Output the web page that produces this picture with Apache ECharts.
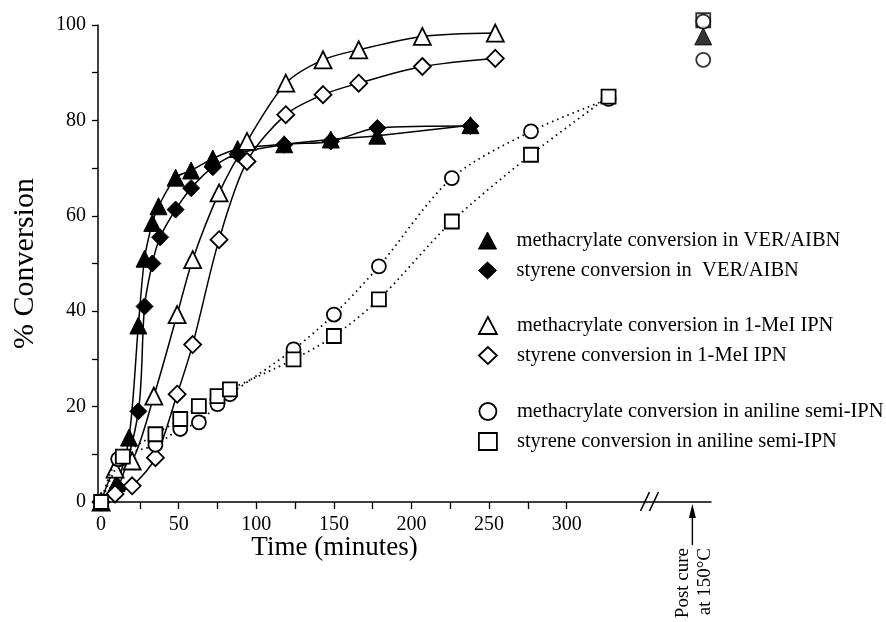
<!DOCTYPE html>
<html>
<head>
<meta charset="utf-8">
<script src="https://cdn.jsdelivr.net/npm/echarts@6/dist/echarts.min.js"></script>
<style>
html, body { margin: 0; padding: 0; background: #fff; }
#main { width: 886px; height: 622px; }
</style>
</head>
<body>
<div id="main"></div>
<script>
// series names (legend order)
var seriesNames = [
    'methacrylate conversion in VER/AIBN',
    'styrene conversion in  VER/AIBN',
    'methacrylate conversion in 1-MeI IPN',
    'styrene conversion in 1-MeI IPN',
    'methacrylate conversion in aniline semi-IPN',
    'styrene conversion in aniline semi-IPN'
];

// time (min) / conversion (%)
var maVerTime = [0, 10, 18, 24, 28, 33, 37, 48, 58, 72, 88, 118, 148, 178, 238];
var maVerConv = [0, 4, 13.5, 37, 51, 58.5, 62, 68, 69.5, 72, 74, 75, 76, 76.8, 79];

var styVerTime = [0, 11, 24, 28, 33, 38, 48, 58, 72, 88, 118, 148, 178, 238];
var styVerConv = [0, 3, 19, 41, 50, 55.5, 61.3, 65.8, 70.2, 73, 74.9, 75.6, 78.4, 78.8];

var maIpnTime = [0, 9, 20, 34, 49, 59, 76, 94, 119, 143, 166, 207, 254];
var maIpnConv = [0, 6.9, 8.6, 22.2, 39.3, 50.8, 64.8, 75.6, 87.8, 92.7, 94.8, 97.6, 98.3];

var styIpnTime = [0, 9, 20, 35, 49, 59, 76, 94, 119, 143, 166, 207, 254];
var styIpnConv = [0, 1.7, 3.4, 9.3, 22.6, 33, 55, 71.4, 81.2, 85.4, 87.8, 91.3, 93];

var maAnTime = [0, 11, 35, 51, 63, 75, 83, 124, 150, 179, 226, 277, 327];
var maAnConv = [0, 9, 12, 15.3, 16.7, 20.5, 22.6, 32, 39.3, 49.4, 67.9, 77.7, 84.5];

var styAnTime = [0, 14, 35, 51, 63, 75, 83, 124, 150, 179, 226, 277, 327];
var styAnConv = [0, 9.5, 14.2, 17.4, 20.1, 22.2, 23.6, 29.9, 34.8, 42.5, 58.8, 72.8, 85];

// post cure at 150°C (drawn past the axis break)
var postCureTime = 388;
var postCircleConv = [100.7, 92.7];
var postSquareConv = [101];
var postTriangleConv = [97.6];

// axis ticks / labels
var xTickValues = [0, 25, 50, 75, 100, 125, 150, 175, 200, 225, 250, 275, 300];
var xLabelValues = [0, 50, 100, 150, 200, 250, 300];
var yTickValues = [0, 10, 20, 30, 40, 50, 60, 70, 80, 90, 100];
var yLabelValues = [0, 20, 40, 60, 80, 100];

var axisBreakTime = 354;
var arrowTime = 381;

var FONT = '"Liberation Serif", "Times New Roman", serif';

function pairs(xs, ys){
    return xs.map(function(x, i){ return [x, ys[i]]; });
}

function ConversionChart(){
    this.chart = echarts.init(document.getElementById('main'));
}

ConversionChart.prototype.lineSeries = function(idx, xs, ys, symbol, size, filled, dotted){
    return {
        name: seriesNames[idx],
        type: 'line',
        data: pairs(xs, ys),
        smooth: 0.3,
        symbol: symbol,
        symbolSize: size,
        showAllSymbol: true,
        clip: false,
        lineStyle: {
            color: '#000',
            width: dotted ? 1.8 : 1.5,
            type: dotted ? [1.5, 4] : 'solid'
        },
        itemStyle: filled
            ? { color: '#000', borderColor: '#000', borderWidth: 1 }
            : { color: '#fff', borderColor: '#000', borderWidth: 1.8 },
        emphasis: { disabled: true },
        z: 3 + idx
    };
};

ConversionChart.prototype.postSeries = function(ys, symbol, size, filled, z){
    return {
        name: 'post-' + symbol + z,
        type: 'scatter',
        data: ys.map(function(v){ return [postCureTime, v]; }),
        symbol: symbol,
        symbolSize: size,
        clip: false,
        itemStyle: filled
            ? { color: '#000', borderColor: '#000', borderWidth: 1 }
            : { color: '#fff', borderColor: '#000', borderWidth: 1.8 },
        emphasis: { disabled: true },
        z: z
    };
};

ConversionChart.prototype.legend = function(top, items){
    return {
        orient: 'vertical',
        left: 473,
        top: top,
        itemWidth: 18,
        itemHeight: 17,
        itemGap: 9,
        selectedMode: false,
        data: items,
        textStyle: {
            fontFamily: FONT,
            fontSize: 20.5,
            color: '#000',
            padding: [0, 0, 0, 15]
        }
    };
};

ConversionChart.prototype.init = function(){
    var filledStyle = { color: '#000', borderColor: '#000', borderWidth: 1 };
    var openStyle = { color: '#fff', borderColor: '#000', borderWidth: 1.8 };
    var option = {
        animation: false,
        backgroundColor: '#fff',
        grid: {
            left: 98,
            right: 175,
            top: 25,
            bottom: 120,
            containLabel: false,
            outerBoundsMode: 'none'
        },
        legend: [
            this.legend(225, [
                { name: seriesNames[0], icon: 'triangle', itemStyle: filledStyle },
                { name: seriesNames[1], icon: 'diamond', itemStyle: filledStyle }
            ]),
            this.legend(310, [
                { name: seriesNames[2], icon: 'triangle', itemStyle: openStyle },
                { name: seriesNames[3], icon: 'diamond', itemStyle: openStyle }
            ]),
            this.legend(396, [
                { name: seriesNames[4], icon: 'circle', itemStyle: openStyle },
                { name: seriesNames[5], icon: 'rect', itemStyle: openStyle }
            ])
        ],
        xAxis: {
            type: 'value',
            min: -2,
            max: 393,
            name: 'Time (minutes)',
            nameLocation: 'middle',
            nameGap: 32,
            nameMoveOverlap: false,
            nameTextStyle: {
                fontFamily: FONT,
                fontSize: 27,
                color: '#000',
                padding: [0, 140, 0, 0]
            },
            axisLine: { onZero: false, lineStyle: { color: '#000', width: 1.5 } },
            axisTick: {
                customValues: xTickValues,
                length: 7,
                lineStyle: { color: '#000', width: 1.3 }
            },
            axisLabel: {
                customValues: xLabelValues,
                fontFamily: FONT,
                fontSize: 20,
                color: '#000',
                margin: 13
            },
            splitLine: { show: false }
        },
        yAxis: {
            type: 'value',
            min: 0,
            max: 100,
            name: '% Conversion',
            nameLocation: 'middle',
            nameGap: 58,
            nameTextStyle: {
                fontFamily: FONT,
                fontSize: 30,
                color: '#000'
            },
            axisLine: { show: true, onZero: false, lineStyle: { color: '#000', width: 1.5 } },
            axisTick: {
                show: true,
                customValues: yTickValues,
                length: 6,
                lineStyle: { color: '#000', width: 1.3 }
            },
            axisLabel: {
                customValues: yLabelValues,
                fontFamily: FONT,
                fontSize: 20,
                color: '#000',
                margin: 12
            },
            splitLine: { show: false }
        },
        series: [
            this.lineSeries(4, maAnTime, maAnConv, 'circle', 14, false, true),
            this.lineSeries(5, styAnTime, styAnConv, 'rect', 14, false, true),
            this.lineSeries(3, styIpnTime, styIpnConv, 'diamond', 17, false, false),
            this.lineSeries(2, maIpnTime, maIpnConv, 'triangle', 17, false, false),
            this.lineSeries(1, styVerTime, styVerConv, 'diamond', 17, true, false),
            this.lineSeries(0, maVerTime, maVerConv, 'triangle', 17, true, false),
            this.postSeries(postSquareConv, 'rect', 14, false, 20),
            this.postSeries(postCircleConv, 'circle', 14, false, 21),
            this.postSeries(postTriangleConv, 'triangle', 17, true, 22)
        ]
    };
    this.chart.setOption(option, true);
    this.drawAnnotations();
};

// axis break, post cure arrow and its label
ConversionChart.prototype.drawAnnotations = function(){
    var chart = this.chart;
    var b = chart.convertToPixel({ gridIndex: 0 }, [axisBreakTime, 0]);
    var a = chart.convertToPixel({ gridIndex: 0 }, [arrowTime, 0]);
    var lineStyle = { stroke: '#000', lineWidth: 1.6 };
    var textStyle = { fontFamily: FONT, fontSize: 19, fill: '#000', align: 'right', verticalAlign: 'middle' };
    chart.setOption({
        graphic: [
            { type: 'line', shape: { x1: b[0] - 10, y1: b[1] + 9, x2: b[0] - 1, y2: b[1] - 10 }, style: lineStyle },
            { type: 'line', shape: { x1: b[0] - 1, y1: b[1] + 9, x2: b[0] + 8, y2: b[1] - 10 }, style: lineStyle },
            { type: 'line', shape: { x1: a[0], y1: a[1] + 15, x2: a[0], y2: a[1] + 43 }, style: { stroke: '#000', lineWidth: 1.4 } },
            { type: 'polygon', shape: { points: [[a[0], a[1] + 2], [a[0] - 3.5, a[1] + 16], [a[0] + 3.5, a[1] + 16]] }, style: { fill: '#000' } },
            { type: 'text', x: a[0] - 9, y: a[1] + 46, rotation: Math.PI / 2, style: Object.assign({ text: 'Post cure' }, textStyle) },
            { type: 'text', x: a[0] + 13, y: a[1] + 46, rotation: Math.PI / 2, style: Object.assign({ text: 'at 150°C' }, textStyle) }
        ]
    });
};

var start_chart = new ConversionChart();
start_chart.init();
</script>
</body>
</html>
